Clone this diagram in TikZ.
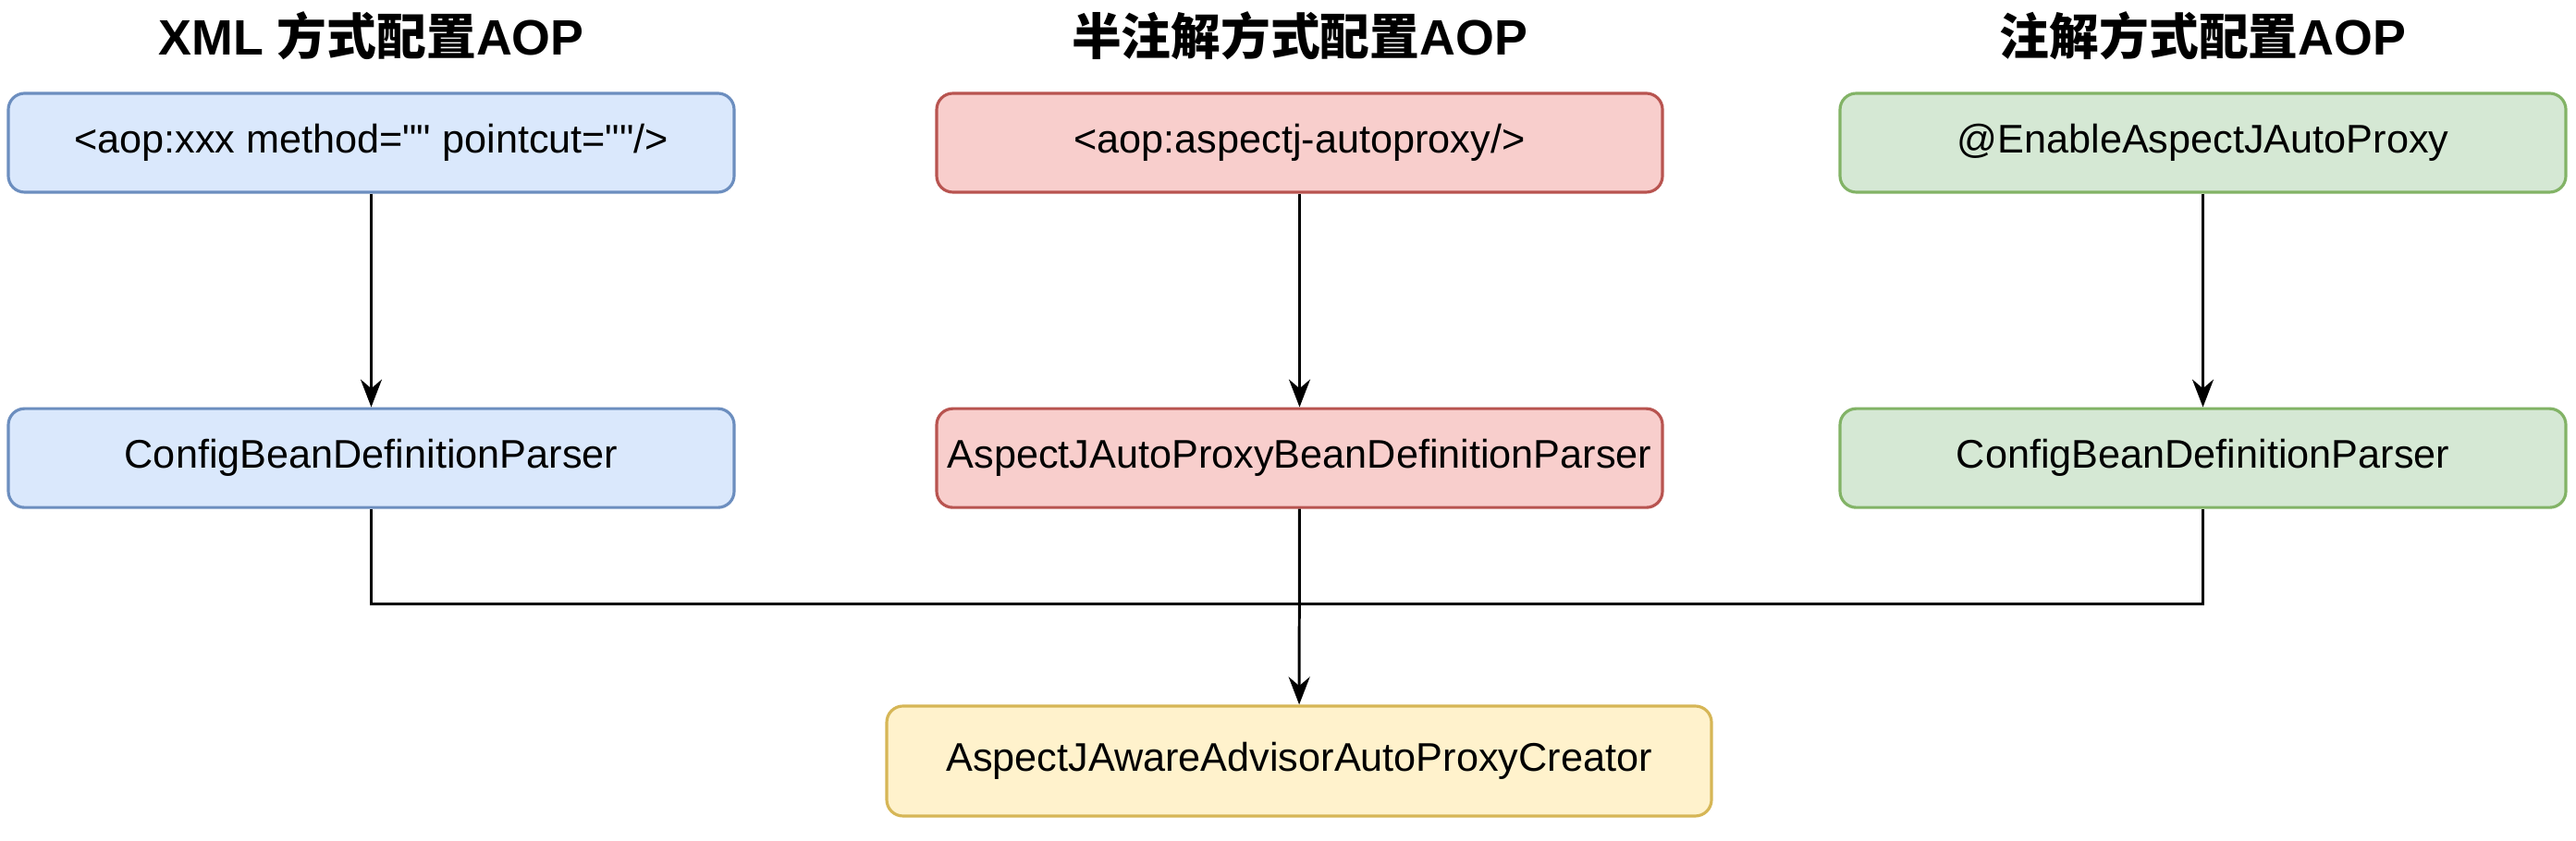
\documentclass[tikz,border=0pt]{standalone}
\usepackage{fontspec}
\newfontfamily\arial{Liberation Sans}
\newfontfamily\cjk{Noto Sans CJK SC}
\usetikzlibrary{arrows.meta,positioning}
\definecolor{fblue}{HTML}{DAE8FC}
\definecolor{sblue}{HTML}{6C8EBF}
\definecolor{fred}{HTML}{F8CECC}
\definecolor{sred}{HTML}{B85450}
\definecolor{fgreen}{HTML}{D5E8D4}
\definecolor{sgreen}{HTML}{82B366}
\definecolor{fyellow}{HTML}{FFF2CC}
\definecolor{syellow}{HTML}{D6B656}

\begin{document}
\begin{tikzpicture}[
  font=\arial\fontsize{12.3}{15}\selectfont,node distance=2.31cm,
  box/.style={rounded corners=5pt,line width=0.9pt,align=center,inner sep=0pt,
              minimum width=7.85cm,minimum height=1.07cm},
  xmlbox/.style={box,draw=sblue,fill=fblue},
  halfbox/.style={box,draw=sred,fill=fred},
  annobox/.style={box,draw=sgreen,fill=fgreen},
  heading/.style={font=\arial\fontsize{15.3}{18}\selectfont\bfseries},
  arr/.style={-{Stealth[length=3mm,width=2.3mm]},line width=0.85pt}]
  \useasboundingbox (0,0) rectangle (27.86,9.10);
  % headings
  \node[heading] (hxml) at (4.015,8.71) {XML {\cjk 方式配置}AOP};
  \node[heading] (hhalf) at (14.055,8.71) {{\cjk 半注解方式配置}AOP};
  \node[heading] (hanno) at (23.825,8.71) {{\cjk 注解方式配置}AOP};
  % first row
  \node[xmlbox] (xmltag) at (4.015,7.555) {<aop:xxx method="" pointcut=""/>};
  \node[halfbox] (autotag) at (14.055,7.555) {<aop:aspectj-autoproxy/>};
  \node[annobox] (enable) at (23.825,7.555) {@EnableAspectJAutoProxy};
  % parsers
  \node[xmlbox,below=of xmltag] (xmlparser) {ConfigBeanDefinitionParser};
  \node[halfbox,below=of autotag] (autoparser) {AspectJAutoProxyBeanDefinitionParser};
  \node[annobox,below=of enable] (annoparser) {ConfigBeanDefinitionParser};
  \foreach \a/\b in {xmltag/xmlparser,autotag/autoparser,enable/annoparser}
     \draw[arr] (\a) -- (\b);
  % creator
  \node[box,draw=syellow,fill=fyellow,minimum width=8.92cm,minimum height=1.19cm]
    (creator) at (14.05,0.865) {AspectJAwareAdvisorAutoProxyCreator};
  \coordinate (join) at (14.055,2.56);
  \draw[line width=0.85pt] (xmlparser.south) |- (join) -| (annoparser.south);
  \draw[arr] (autoparser) -- (creator);
\end{tikzpicture}
\end{document}
